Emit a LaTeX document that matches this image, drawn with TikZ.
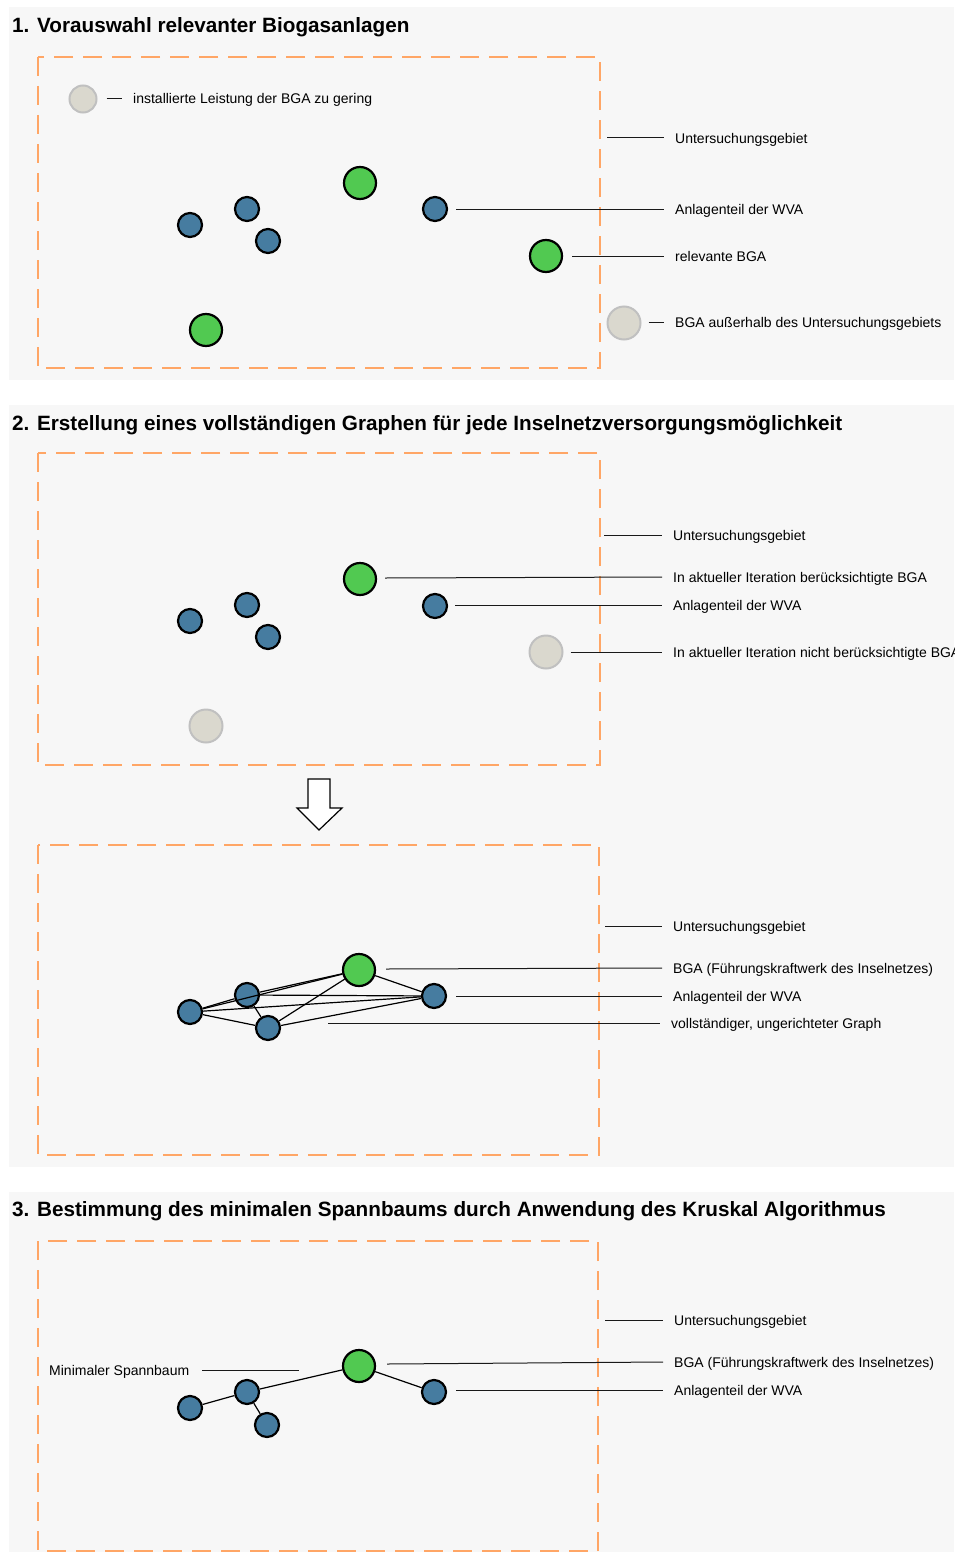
\documentclass[tikz,border=0pt]{standalone}
\usepackage{fontspec}
\setmainfont{Liberation Sans}
\definecolor{bgc}{RGB}{247,247,247}
\definecolor{orng}{RGB}{255,166,102}
\definecolor{bluec}{RGB}{70,124,160}
\definecolor{greenc}{RGB}{81,201,81}
\definecolor{grayfill}{RGB}{218,216,206}
\definecolor{grayedge}{RGB}{192,192,192}
\begin{document}
\begin{tikzpicture}[x=1pt,y=-1pt,
  panel/.style={fill=bgc,draw=none},
  area/.style={draw=orng,line width=2pt,dash pattern=on 19pt off 10pt},
  wva/.style={circle,draw=black,line width=2.2pt,fill=bluec,minimum size=24pt,inner sep=0pt},
  bga/.style={circle,draw=black,line width=2.2pt,fill=greenc,minimum size=32pt,inner sep=0pt},
  offbga/.style={circle,draw=grayedge,line width=2pt,fill=grayfill,minimum size=33pt,inner sep=0pt},
  lbl/.style={anchor=west,inner xsep=11pt,inner ysep=0pt,font=\fontsize{14}{16}\selectfont,text height=10pt,text depth=0pt},
  ttl/.style={anchor=base west,inner sep=0pt,font=\bfseries\fontsize{20.7}{24}\selectfont},
  lead/.style={draw=black!90,line width=1pt},
  gedge/.style={draw=black,line width=1.2pt}]
\useasboundingbox (0,0) rectangle (954,1552);
% panels
\fill[panel] (9,7) rectangle (954,380);
\fill[panel] (9,405) rectangle (954,1167);
\fill[panel] (9,1192) rectangle (954,1552);

% ---------- Panel 1 ----------
\node[ttl] (t1) at (12,33) {1. Vorauswahl relevanter Biogasanlagen};
\draw[area] (38,57) rectangle (600,368);
\node[offbga,minimum size=27pt] (p1leg) at (83,99) {};
\node[lbl,inner xsep=0pt] (p1legt) at (133,99) {installierte Leistung der BGA zu gering};
\draw[lead] ([xshift=9pt]p1leg.east) -- ([xshift=-11pt]p1legt.west);
\node[bga] (p1g1) at (360,183) {};
\node[bga] (p1g2) at (206,330) {};
\node[bga] (p1g3) at (546,256) {};
\node[wva] (p1b1) at (190,225) {};
\node[wva] (p1b2) at (247,209) {};
\node[wva] (p1b3) at (268,241) {};
\node[wva] (p1b4) at (435,209) {};
\node[offbga] (p1o) at (624,323) {};
\coordinate (p1area) at (607,138);
\node[lbl] (p1l1) at (664,138) {Untersuchungsgebiet};
\node[lbl] (p1l2) at (664,209) {Anlagenteil der WVA};
\node[lbl] (p1l3) at (664,256) {relevante BGA};
\node[lbl] (p1l4) at (664,322) {BGA außerhalb des Untersuchungsgebiets};
\draw[lead] (p1area) -- (p1l1.west);
\draw[lead] ([xshift=8pt]p1b4.east) -- (p1l2.west);
\draw[lead] ([xshift=9pt]p1g3.east) -- (p1l3.west);
\draw[lead] ([xshift=7pt,yshift=1pt]p1o.east) -- (p1l4.west);

% ---------- Panel 2 ----------
\node[ttl] (t2) at (12,430) {2. Erstellung eines vollständigen Graphen für jede Inselnetzversorgungsmöglichkeit};
\draw[area] (38,453) rectangle (600,765);
\node[bga] (p2g1) at (360,579) {};
\node[wva] (p2b1) at (190,621) {};
\node[wva] (p2b2) at (247,605) {};
\node[wva] (p2b3) at (268,637) {};
\node[wva] (p2b4) at (435,606) {};
\node[offbga] (p2o1) at (206,726) {};
\node[offbga] (p2o2) at (546,652) {};
\coordinate (p2area) at (604,535);
\node[lbl] (p2l1) at (662,535) {Untersuchungsgebiet};
\node[lbl] (p2l2) at (662,577) {In aktueller Iteration berücksichtigte BGA};
\node[lbl] (p2l3) at (662,605) {Anlagenteil der WVA};
\node[lbl] (p2l4) at (662,652) {In aktueller Iteration nicht berücksichtigte BGA};
\draw[lead] (p2area) -- (p2l1.west);
\draw[lead] ([xshift=8pt,yshift=1pt]p2g1.east) -- (p2l2.west);
\draw[lead] ([xshift=7pt,yshift=1pt]p2b4.east) -- (p2l3.west);
\draw[lead] ([xshift=7pt]p2o2.east) -- (p2l4.west);

% arrow
\draw[black,line width=1.2pt,fill=white,line join=miter]
  (308,779) -- (330,779) -- (330,808) -- (342,808) -- (319,830) -- (297,808) -- (308,808) -- cycle;

\draw[area] (38,845) rectangle (599,1155);
\node[wva] (qA) at (190,1012) {};
\node[wva] (qB) at (247,995) {};
\node[wva] (qC) at (268,1028) {};
\node[bga] (qG) at (359,970) {};
\node[wva] (qD) at (434,996) {};
\foreach \a/\b in {qA/qB,qA/qC,qA/qG,qA/qD,qB/qC,qB/qG,qB/qD,qC/qG,qC/qD,qG/qD}
  \draw[gedge] (\a) -- (\b);
\coordinate (p2barea) at (605,926);
\coordinate (p2graph) at (328,1023);
\node[lbl] (p2bl1) at (662,926) {Untersuchungsgebiet};
\node[lbl] (p2bl2) at (662,968) {BGA (Führungskraftwerk des Inselnetzes)};
\node[lbl] (p2bl3) at (662,996) {Anlagenteil der WVA};
\node[lbl,inner xsep=11pt] (p2bl4) at (660,1023) {vollständiger, ungerichteter Graph};
\draw[lead] (p2barea) -- (p2bl1.west);
\draw[lead] ([xshift=10pt,yshift=1pt]qG.east) -- (p2bl2.west);
\draw[lead] ([xshift=9pt]qD.east) -- (p2bl3.west);
\draw[lead] (p2graph) -- (p2bl4.west);

% ---------- Panel 3 ----------
\node[ttl] (t3) at (12,1216) {3. Bestimmung des minimalen Spannbaums durch Anwendung des Kruskal Algorithmus};
\draw[area] (38,1241) rectangle (598,1551);
\node[wva] (rA) at (190,1408) {};
\node[wva] (rB) at (247,1392) {};
\node[wva] (rC) at (267,1425) {};
\node[bga] (rG) at (359,1366) {};
\node[wva] (rD) at (434,1392) {};
\draw[gedge] (rA) -- (rB);
\draw[gedge] (rB) -- (rC);
\draw[gedge] (rB) -- (rG);
\draw[gedge] (rG) -- (rD);
\node[lbl,inner xsep=0pt] (p3ms) at (49,1370) {Minimaler Spannbaum};
\coordinate (p3msend) at (299,1370);
\draw[lead] ([xshift=13pt]p3ms.east) -- (p3msend);
\coordinate (p3area) at (605,1320);
\node[lbl] (p3l1) at (663,1320) {Untersuchungsgebiet};
\node[lbl] (p3l2) at (663,1362) {BGA (Führungskraftwerk des Inselnetzes)};
\node[lbl] (p3l3) at (663,1390) {Anlagenteil der WVA};
\draw[lead] (p3area) -- (p3l1.west);
\draw[lead] ([xshift=11pt,yshift=2pt]rG.east) -- (p3l2.west);
\draw[lead] ([xshift=9pt,yshift=2pt]rD.east) -- (p3l3.west);
\end{tikzpicture}
\end{document}
